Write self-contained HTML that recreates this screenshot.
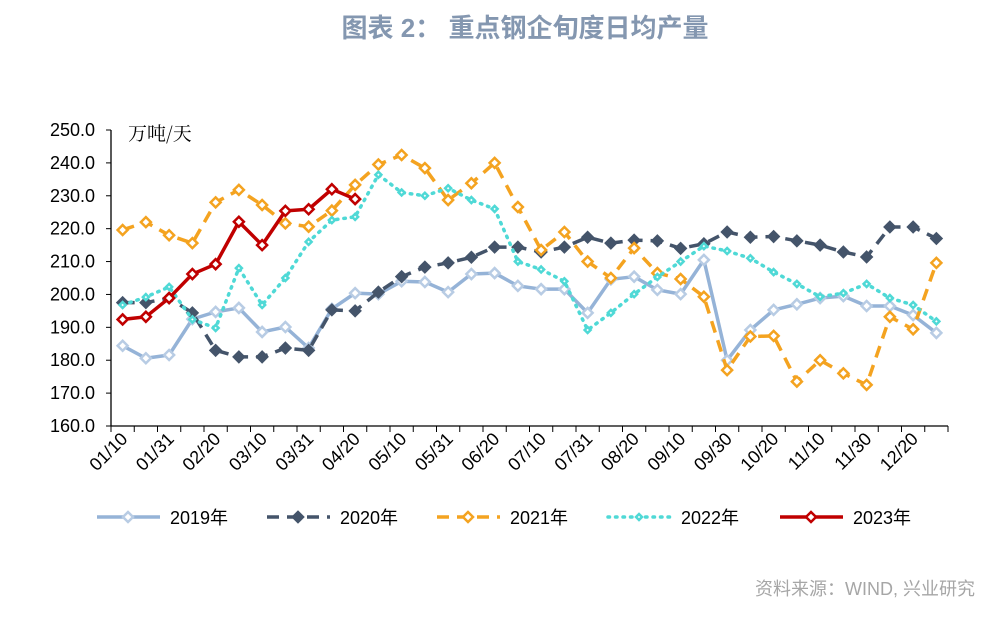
<!DOCTYPE html>
<html><head><meta charset="utf-8"><style>
body{margin:0;background:#fff;}
svg text{font-family:"Liberation Sans","Noto Sans CJK SC",sans-serif;}
</style></head><body>
<svg id="chart" width="1003" height="614" viewBox="0 0 1003 614" xmlns="http://www.w3.org/2000/svg">
<text x="525" y="37" text-anchor="middle" font-size="26" font-weight="bold" fill="#8497b0">图表 2：  重点钢企旬度日均产量</text>
<text x="128" y="140" font-size="19" fill="#000" style="font-family:'Noto Serif CJK SC',serif">万吨/天</text>
<text x="975" y="595" text-anchor="end" font-size="18" fill="#a6a6a6">资料来源：WIND, 兴业研究</text>
<g id="axes"></g>
<g id="series"></g>
<g id="legend"></g>
</svg>
<script>
const categories=["01/10","01/20","01/31","02/10","02/20","02/28","03/10","03/20","03/31","04/10","04/20","04/30","05/10","05/20","05/31","06/10","06/20","06/30","07/10","07/20","07/31","08/10","08/20","08/31","09/10","09/20","09/30","10/10","10/20","10/31","11/10","11/20","11/30","12/10","12/20","12/31"];
const yTicks=[160,170,180,190,200,210,220,230,240,250];
const s2019=[184.4,180.6,181.6,192.5,194.7,195.9,188.6,190.1,183.7,195.6,200.4,200.1,204,203.8,200.7,206.2,206.5,202.6,201.6,201.6,194.4,204.6,205.4,201.4,200.1,210.5,180,189.2,195.3,197,198.9,199.5,196.5,196.5,193.7,188.3];
const s2020=[197.5,197.5,198.9,194.4,183,181,181,183.7,183,195.3,195,200.7,205.4,208.3,209.6,211.3,214.4,214.4,212.9,214.4,217.4,215.6,216.5,216.3,214,215.4,219,217.4,217.6,216.3,215,212.9,211.4,220.5,220.5,217];
const s2021=[219.6,222,218,215.6,228,231.8,227.2,221.6,220.6,225.5,233.3,239.5,242.4,238.4,228.7,233.8,240,226.6,213.5,219,210,205,214.1,206.5,204.7,199.3,177,187.2,187.4,173.5,180,176,172.5,193.2,189.4,209.6];
const s2022=[196.8,199.2,202.3,192.4,189.8,208,196.8,205,216,222.6,223.6,236.4,231,230,232.3,228.7,226,210,207.6,204,189.2,194.4,200.1,205.3,210,214.7,213.2,211,206.8,203.2,199.3,200.4,203.2,198.9,196.8,191.8];
const s2023=[192.4,193.2,198.9,206.2,209.2,222.1,215,225.4,225.9,232,229];
const X0=111,X1=948,Y0=426,Y1=130,YMIN=160,YMAX=250;
const bw=(X1-X0)/categories.length;
const xs=i=>X0+bw*(i+0.5);
const ys=v=>Y0-(v-YMIN)/(YMAX-YMIN)*(Y0-Y1);
const NS="http://www.w3.org/2000/svg";
function mk(tag,attrs,parent){const e=document.createElementNS(NS,tag);for(const k in attrs)e.setAttribute(k,attrs[k]);parent.appendChild(e);return e;}
const axes=document.getElementById('axes');
let a=mk('line',{x1:X0,y1:Y1,x2:X0,y2:Y0,stroke:'#000','stroke-width':1.3},axes);


a=mk('line',{x1:X0,y1:Y0,x2:X1,y2:Y0,stroke:'#000','stroke-width':1.3},axes);


yTicks.forEach(v=>{
  mk('line',{x1:X0-5,y1:ys(v),x2:X0,y2:ys(v),stroke:'#000'},axes);
  const t=mk('text',{x:X0-16,y:ys(v)+6,'text-anchor':'end','font-size':18,fill:'#000'},axes);
  t.textContent=v.toFixed(1);
  
  
});
for(let i=0;i<=categories.length;i++){mk('line',{x1:X0+bw*i,y1:Y0,x2:X0+bw*i,y2:Y0+6,stroke:'#000'},axes);}
categories.forEach((c,i)=>{
  if(i%2!==0)return;
  const x=xs(i)+6,y=Y0+14;
  const t=mk('text',{x:x,y:y,'text-anchor':'end','font-size':18,fill:'#000',transform:`rotate(-45 ${x} ${y})`},axes);
  t.textContent=c;
  
  
});
const cfg=[
 {name:'2019年',data:s2019,color:'#95b3d7',dash:'',w:3.5,mk:'#b8cce4',fill:'#fff'},
 {name:'2020年',data:s2020,color:'#44546a',dash:'12,8',w:3.5,mk:'#44546a',fill:'#44546a'},
 {name:'2021年',data:s2021,color:'#f4a320',dash:'12,8',w:3.5,mk:'#f4a320',fill:'#fff'},
 {name:'2022年',data:s2022,color:'#4fd9d6',dash:'1.5,6',w:3.5,mk:'#4fd9d6',fill:'#fff'},
 {name:'2023年',data:s2023,color:'#c00000',dash:'',w:3.5,mk:'#c00000',fill:'#fff'}
];
const sg=document.getElementById('series');
function diamond(g,x,y,c,f,r){return mk('path',{d:`M${x} ${y-r}L${x+r} ${y}L${x} ${y+r}L${x-r} ${y}Z`,fill:f,stroke:c,'stroke-width':2.5},g);}
cfg.forEach((s,k)=>{
  const g=mk('g',{},sg);
  
  
  const pts=s.data.map((v,i)=>xs(i)+','+ys(v)).join(' ');
  const pl=mk('polyline',{points:pts,fill:'none',stroke:s.color,'stroke-width':s.w,'stroke-dasharray':s.dash,'stroke-linecap':k===3?'round':'butt','stroke-linejoin':'round'},g);
  
  
  s.data.forEach((v,i)=>{
    const d=diamond(g,xs(i),ys(v),s.mk,s.fill,k===3?3:5);
    
    
  });
});
const lg=document.getElementById('legend');
const lx=[97,267,437,608,780];
cfg.forEach((s,k)=>{
  const g=mk('g',{},lg);
  
  
  mk('line',{x1:lx[k],y1:517,x2:lx[k]+63,y2:517,stroke:s.color,'stroke-width':3.5,'stroke-dasharray':s.dash,'stroke-linecap':k===3?'round':'butt'},g);
  diamond(g,lx[k]+31,517,s.mk,s.fill,k===3?3:5);
  const t=mk('text',{x:lx[k]+73,y:524,'font-size':18,fill:'#000'},g);
  t.textContent=s.name;
});
</script>
</body></html>
